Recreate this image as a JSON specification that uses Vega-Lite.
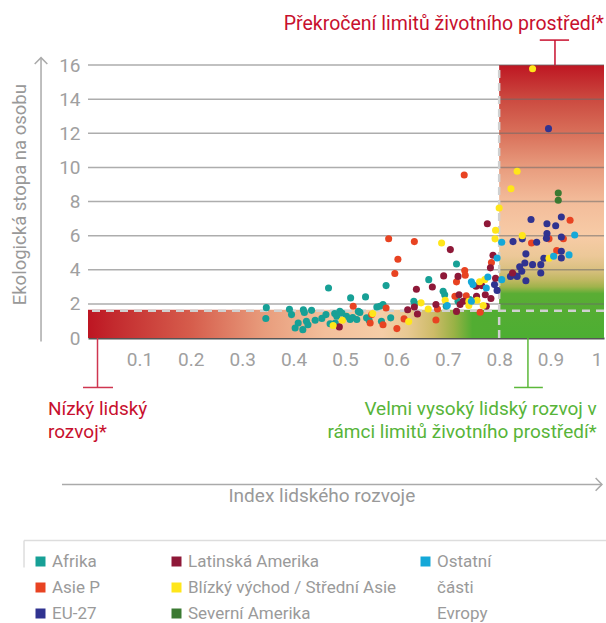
{
  "$schema": "https://vega.github.io/schema/vega-lite/v6.json",
  "width": 516,
  "height": 273,
  "autosize": "none",
  "padding": {"left": 88, "top": 65, "right": 2, "bottom": 285},
  "background": "white",
  "config": {
    "font": "Roboto, sans-serif",
    "view": {"stroke": null},
    "axis": {"labelFont": "Roboto, sans-serif", "labelOverlap": false, "labelFontSize": 19, "labelColor": "#a0a0a0", "ticks": false, "grid": false, "labelSeparation": 0},
    "axisX": {"domainColor": "#555555", "domainWidth": 2, "labelPadding": 12, "zindex": 1, "labelFlush": 5},
    "axisY": {"domain": false, "labelPadding": 8},
    "legend": {"labelFont": "Roboto, sans-serif"}
  },
  "datasets": {
    "pts": [
      {"region": "Afrika", "hdi": 0.347, "footprint": 1.78},
      {"region": "Afrika", "hdi": 0.346, "footprint": 1.14},
      {"region": "Afrika", "hdi": 0.392, "footprint": 1.68},
      {"region": "Afrika", "hdi": 0.396, "footprint": 1.37},
      {"region": "Afrika", "hdi": 0.419, "footprint": 1.66},
      {"region": "Afrika", "hdi": 0.435, "footprint": 1.62},
      {"region": "Afrika", "hdi": 0.409, "footprint": 0.88},
      {"region": "Afrika", "hdi": 0.403, "footprint": 0.59},
      {"region": "Afrika", "hdi": 0.418, "footprint": 0.49},
      {"region": "Afrika", "hdi": 0.425, "footprint": 0.98},
      {"region": "Afrika", "hdi": 0.428, "footprint": 0.78},
      {"region": "Afrika", "hdi": 0.442, "footprint": 1.04},
      {"region": "Afrika", "hdi": 0.421, "footprint": 1.5},
      {"region": "Afrika", "hdi": 0.455, "footprint": 1.15},
      {"region": "Afrika", "hdi": 0.463, "footprint": 1.37},
      {"region": "Afrika", "hdi": 0.468, "footprint": 2.93},
      {"region": "Afrika", "hdi": 0.471, "footprint": 0.84},
      {"region": "Afrika", "hdi": 0.48, "footprint": 1.43},
      {"region": "Afrika", "hdi": 0.484, "footprint": 1.27},
      {"region": "Afrika", "hdi": 0.481, "footprint": 0.88},
      {"region": "Afrika", "hdi": 0.49, "footprint": 1.56},
      {"region": "Afrika", "hdi": 0.494, "footprint": 1.47},
      {"region": "Afrika", "hdi": 0.503, "footprint": 1.27},
      {"region": "Afrika", "hdi": 0.51, "footprint": 1.08},
      {"region": "Afrika", "hdi": 0.511, "footprint": 2.35},
      {"region": "Afrika", "hdi": 0.515, "footprint": 1.2},
      {"region": "Afrika", "hdi": 0.523, "footprint": 1.08},
      {"region": "Afrika", "hdi": 0.526, "footprint": 1.56},
      {"region": "Afrika", "hdi": 0.529, "footprint": 1.5},
      {"region": "Afrika", "hdi": 0.54, "footprint": 2.41},
      {"region": "Afrika", "hdi": 0.542, "footprint": 1.18},
      {"region": "Afrika", "hdi": 0.547, "footprint": 1.04},
      {"region": "Afrika", "hdi": 0.562, "footprint": 1.82},
      {"region": "Afrika", "hdi": 0.568, "footprint": 1.86},
      {"region": "Afrika", "hdi": 0.574, "footprint": 1.96},
      {"region": "Afrika", "hdi": 0.571, "footprint": 0.98},
      {"region": "Afrika", "hdi": 0.58, "footprint": 3.07},
      {"region": "Afrika", "hdi": 0.589, "footprint": 1.18},
      {"region": "Afrika", "hdi": 0.636, "footprint": 2.02},
      {"region": "Afrika", "hdi": 0.634, "footprint": 2.15},
      {"region": "Afrika", "hdi": 0.663, "footprint": 3.42},
      {"region": "Afrika", "hdi": 0.691, "footprint": 2.74},
      {"region": "Afrika", "hdi": 0.694, "footprint": 2.54},
      {"region": "Afrika", "hdi": 0.697, "footprint": 1.86},
      {"region": "Afrika", "hdi": 0.717, "footprint": 4.34},
      {"region": "Afrika", "hdi": 0.72, "footprint": 2.15},
      {"region": "Afrika", "hdi": 0.743, "footprint": 2.25},
      {"region": "Asie P", "hdi": 0.732, "footprint": 9.55},
      {"region": "Asie P", "hdi": 0.585, "footprint": 5.82},
      {"region": "Asie P", "hdi": 0.635, "footprint": 5.65},
      {"region": "Asie P", "hdi": 0.603, "footprint": 4.62},
      {"region": "Asie P", "hdi": 0.597, "footprint": 3.78},
      {"region": "Asie P", "hdi": 0.516, "footprint": 1.86},
      {"region": "Asie P", "hdi": 0.552, "footprint": 1.37},
      {"region": "Asie P", "hdi": 0.549, "footprint": 0.88},
      {"region": "Asie P", "hdi": 0.574, "footprint": 0.78},
      {"region": "Asie P", "hdi": 0.58, "footprint": 1.76},
      {"region": "Asie P", "hdi": 0.601, "footprint": 0.55},
      {"region": "Asie P", "hdi": 0.615, "footprint": 1.12},
      {"region": "Asie P", "hdi": 0.677, "footprint": 1.06},
      {"region": "Asie P", "hdi": 0.68, "footprint": 1.7},
      {"region": "Asie P", "hdi": 0.717, "footprint": 3.29},
      {"region": "Asie P", "hdi": 0.733, "footprint": 3.96},
      {"region": "Asie P", "hdi": 0.734, "footprint": 3.68},
      {"region": "Asie P", "hdi": 0.714, "footprint": 2.44},
      {"region": "Asie P", "hdi": 0.736, "footprint": 2.48},
      {"region": "Asie P", "hdi": 0.763, "footprint": 1.51},
      {"region": "Asie P", "hdi": 0.785, "footprint": 4.43},
      {"region": "Asie P", "hdi": 0.863, "footprint": 5.57},
      {"region": "Asie P", "hdi": 0.938, "footprint": 6.9},
      {"region": "Asie P", "hdi": 0.925, "footprint": 5.82},
      {"region": "Asie P", "hdi": 0.897, "footprint": 5.81},
      {"region": "Asie P", "hdi": 0.912, "footprint": 5.12},
      {"region": "EU-27", "hdi": 0.896, "footprint": 12.27},
      {"region": "EU-27", "hdi": 0.862, "footprint": 6.94},
      {"region": "EU-27", "hdi": 0.893, "footprint": 6.7},
      {"region": "EU-27", "hdi": 0.91, "footprint": 6.58},
      {"region": "EU-27", "hdi": 0.921, "footprint": 7.09},
      {"region": "EU-27", "hdi": 0.845, "footprint": 5.81},
      {"region": "EU-27", "hdi": 0.827, "footprint": 5.65},
      {"region": "EU-27", "hdi": 0.873, "footprint": 5.61},
      {"region": "EU-27", "hdi": 0.893, "footprint": 6.12},
      {"region": "EU-27", "hdi": 0.892, "footprint": 5.84},
      {"region": "EU-27", "hdi": 0.921, "footprint": 5.92},
      {"region": "EU-27", "hdi": 0.921, "footprint": 5.08},
      {"region": "EU-27", "hdi": 0.921, "footprint": 4.69},
      {"region": "EU-27", "hdi": 0.887, "footprint": 4.67},
      {"region": "EU-27", "hdi": 0.852, "footprint": 4.93},
      {"region": "EU-27", "hdi": 0.85, "footprint": 4.4},
      {"region": "EU-27", "hdi": 0.865, "footprint": 4.3},
      {"region": "EU-27", "hdi": 0.881, "footprint": 4.3},
      {"region": "EU-27", "hdi": 0.881, "footprint": 3.81},
      {"region": "EU-27", "hdi": 0.84, "footprint": 4.17},
      {"region": "EU-27", "hdi": 0.844, "footprint": 3.91},
      {"region": "EU-27", "hdi": 0.835, "footprint": 3.61},
      {"region": "EU-27", "hdi": 0.822, "footprint": 3.61},
      {"region": "EU-27", "hdi": 0.828, "footprint": 3.71},
      {"region": "EU-27", "hdi": 0.852, "footprint": 3.36},
      {"region": "EU-27", "hdi": 0.791, "footprint": 3.13},
      {"region": "EU-27", "hdi": 0.796, "footprint": 2.79},
      {"region": "Latinská Amerika", "hdi": 0.777, "footprint": 6.7},
      {"region": "Latinská Amerika", "hdi": 0.788, "footprint": 4.85},
      {"region": "Latinská Amerika", "hdi": 0.783, "footprint": 4.11},
      {"region": "Latinská Amerika", "hdi": 0.705, "footprint": 5.18},
      {"region": "Latinská Amerika", "hdi": 0.692, "footprint": 3.64},
      {"region": "Latinská Amerika", "hdi": 0.72, "footprint": 3.61},
      {"region": "Latinská Amerika", "hdi": 0.67, "footprint": 2.99},
      {"region": "Latinská Amerika", "hdi": 0.639, "footprint": 2.86},
      {"region": "Latinská Amerika", "hdi": 0.722, "footprint": 2.54},
      {"region": "Latinská Amerika", "hdi": 0.756, "footprint": 2.44},
      {"region": "Latinská Amerika", "hdi": 0.773, "footprint": 2.54},
      {"region": "Latinská Amerika", "hdi": 0.784, "footprint": 2.31},
      {"region": "Latinská Amerika", "hdi": 0.755, "footprint": 3.03},
      {"region": "Latinská Amerika", "hdi": 0.766, "footprint": 3.07},
      {"region": "Latinská Amerika", "hdi": 0.793, "footprint": 3.5},
      {"region": "Latinská Amerika", "hdi": 0.677, "footprint": 1.96},
      {"region": "Latinská Amerika", "hdi": 0.724, "footprint": 1.96},
      {"region": "Latinská Amerika", "hdi": 0.635, "footprint": 1.82},
      {"region": "Latinská Amerika", "hdi": 0.641, "footprint": 1.41},
      {"region": "Latinská Amerika", "hdi": 0.622, "footprint": 1.66},
      {"region": "Latinská Amerika", "hdi": 0.717, "footprint": 1.56},
      {"region": "Latinská Amerika", "hdi": 0.775, "footprint": 1.86},
      {"region": "Latinská Amerika", "hdi": 0.73, "footprint": 2.15},
      {"region": "Latinská Amerika", "hdi": 0.489, "footprint": 0.65},
      {"region": "Latinská Amerika", "hdi": 0.826, "footprint": 3.81},
      {"region": "Blízký východ / Střední Asie", "hdi": 0.865, "footprint": 15.78},
      {"region": "Blízký východ / Střední Asie", "hdi": 0.835, "footprint": 9.77},
      {"region": "Blízký východ / Střední Asie", "hdi": 0.823, "footprint": 8.75},
      {"region": "Blízký východ / Střední Asie", "hdi": 0.8, "footprint": 7.62},
      {"region": "Blízký východ / Střední Asie", "hdi": 0.793, "footprint": 6.31},
      {"region": "Blízký východ / Střední Asie", "hdi": 0.792, "footprint": 5.81},
      {"region": "Blízký východ / Střední Asie", "hdi": 0.845, "footprint": 6.0},
      {"region": "Blízký východ / Střední Asie", "hdi": 0.897, "footprint": 4.67},
      {"region": "Blízký východ / Střední Asie", "hdi": 0.688, "footprint": 5.57},
      {"region": "Blízký východ / Střední Asie", "hdi": 0.762, "footprint": 3.3},
      {"region": "Blízký východ / Střední Asie", "hdi": 0.772, "footprint": 3.42},
      {"region": "Blízký východ / Střední Asie", "hdi": 0.757, "footprint": 2.21},
      {"region": "Blízký východ / Střední Asie", "hdi": 0.769, "footprint": 1.9},
      {"region": "Blízký východ / Střední Asie", "hdi": 0.741, "footprint": 2.15},
      {"region": "Blízký východ / Střední Asie", "hdi": 0.741, "footprint": 1.9},
      {"region": "Blízký východ / Střední Asie", "hdi": 0.695, "footprint": 2.21},
      {"region": "Blízký východ / Střední Asie", "hdi": 0.648, "footprint": 2.06},
      {"region": "Blízký východ / Střední Asie", "hdi": 0.662, "footprint": 1.7},
      {"region": "Blízký východ / Střední Asie", "hdi": 0.624, "footprint": 0.96},
      {"region": "Blízký východ / Střední Asie", "hdi": 0.554, "footprint": 1.43},
      {"region": "Blízký východ / Střední Asie", "hdi": 0.495, "footprint": 1.04},
      {"region": "Blízký východ / Střední Asie", "hdi": 0.477, "footprint": 0.73},
      {"region": "Severní Amerika", "hdi": 0.915, "footprint": 8.5},
      {"region": "Severní Amerika", "hdi": 0.915, "footprint": 8.07},
      {"region": "Ostatní části Evropy", "hdi": 0.805, "footprint": 5.61},
      {"region": "Ostatní části Evropy", "hdi": 0.796, "footprint": 4.69},
      {"region": "Ostatní části Evropy", "hdi": 0.805, "footprint": 3.42},
      {"region": "Ostatní části Evropy", "hdi": 0.746, "footprint": 3.3},
      {"region": "Ostatní části Evropy", "hdi": 0.749, "footprint": 3.13},
      {"region": "Ostatní části Evropy", "hdi": 0.775, "footprint": 2.93},
      {"region": "Ostatní části Evropy", "hdi": 0.778, "footprint": 3.58},
      {"region": "Ostatní části Evropy", "hdi": 0.699, "footprint": 1.9},
      {"region": "Ostatní části Evropy", "hdi": 0.746, "footprint": 2.15},
      {"region": "Ostatní části Evropy", "hdi": 0.947, "footprint": 6.04},
      {"region": "Ostatní části Evropy", "hdi": 0.936, "footprint": 4.87},
      {"region": "Ostatní části Evropy", "hdi": 0.906, "footprint": 4.79}
    ]
  },
  "layer": [
    {
      "data": {"values": [{}]},
      "mark": {"type": "rect", "fill": {"gradient": "linear", "x1": 0, "y1": 0, "x2": 1, "y2": 0, "stops": [
        {"offset": 0, "color": "#bd1522"},
        {"offset": 0.05, "color": "#c32a2e"},
        {"offset": 0.2, "color": "#d65d4c"},
        {"offset": 0.34, "color": "#e89c7c"},
        {"offset": 0.46, "color": "#f3bf9b"},
        {"offset": 0.57, "color": "#f5cda7"},
        {"offset": 0.62, "color": "#e8c992"},
        {"offset": 0.67, "color": "#cdbb68"},
        {"offset": 0.71, "color": "#98b245"},
        {"offset": 0.745, "color": "#52ad32"},
        {"offset": 1, "color": "#4cae32"}
      ]}},
      "encoding": {
        "x": {"datum": 0, "type": "quantitative", "scale": {"domain": [0, 1.004], "nice": false, "zero": false}, "axis": {"values": [0.1, 0.2, 0.3, 0.4, 0.5, 0.6, 0.7, 0.8, 0.9, 1], "format": "~g", "title": null, "labelOverlap": false}},
        "x2": {"datum": 1.004},
        "y": {"datum": 0, "type": "quantitative", "scale": {"domain": [0, 16], "nice": false}, "axis": {"values": [0, 2, 4, 6, 8, 10, 12, 14, 16], "title": null, "labelOverlap": false}},
        "y2": {"datum": 1.65}
      }
    },
    {
      "data": {"values": [{}]},
      "mark": {"type": "rect", "fill": {"gradient": "linear", "x1": 0, "y1": 0, "x2": 0, "y2": 1, "stops": [
        {"offset": 0, "color": "#be1622"},
        {"offset": 0.125, "color": "#cb4a40"},
        {"offset": 0.25, "color": "#d9705a"},
        {"offset": 0.375, "color": "#e89c7e"},
        {"offset": 0.5, "color": "#f3bc9a"},
        {"offset": 0.625, "color": "#f7cba6"},
        {"offset": 0.7, "color": "#ecc898"},
        {"offset": 0.75, "color": "#d9c080"},
        {"offset": 0.7875, "color": "#c0b862"},
        {"offset": 0.8125, "color": "#a0b34c"},
        {"offset": 0.8375, "color": "#5aad34"},
        {"offset": 1, "color": "#4cae32"}
      ]}},
      "encoding": {
        "x": {"datum": 0.8, "type": "quantitative", "axis": {"values": [0.1, 0.2, 0.3, 0.4, 0.5, 0.6, 0.7, 0.8, 0.9, 1], "format": "~g", "title": null, "labelOverlap": false}},
        "x2": {"datum": 1.004},
        "y": {"datum": 0, "type": "quantitative", "axis": {"values": [0, 2, 4, 6, 8, 10, 12, 14, 16], "title": null, "labelOverlap": false}},
        "y2": {"datum": 16}
      }
    },
    {
      "data": {"values": [{"g": 2}, {"g": 4}, {"g": 6}, {"g": 8}, {"g": 10}, {"g": 12}, {"g": 14}, {"g": 16}]},
      "mark": {"type": "rule", "color": "#6a6a6a", "opacity": 0.55, "strokeWidth": 1.5},
      "encoding": {"y": {"field": "g", "type": "quantitative", "axis": {"values": [0, 2, 4, 6, 8, 10, 12, 14, 16], "title": null, "labelOverlap": false}}}
    },
    {
      "data": {"values": [{}]},
      "mark": {"type": "rule", "color": "#d0d0d0", "strokeWidth": 2.5, "strokeDash": [8, 5]},
      "encoding": {"x": {"datum": 0.8, "type": "quantitative", "axis": {"values": [0.1, 0.2, 0.3, 0.4, 0.5, 0.6, 0.7, 0.8, 0.9, 1], "format": "~g", "title": null, "labelOverlap": false}}, "y": {"datum": 0, "type": "quantitative", "axis": {"values": [0, 2, 4, 6, 8, 10, 12, 14, 16], "title": null, "labelOverlap": false}}, "y2": {"datum": 16}}
    },
    {
      "data": {"values": [{}]},
      "mark": {"type": "rule", "color": "#d0d0d0", "strokeWidth": 2.5, "strokeDash": [8, 6]},
      "encoding": {"y": {"datum": 1.6, "type": "quantitative", "axis": {"values": [0, 2, 4, 6, 8, 10, 12, 14, 16], "title": null, "labelOverlap": false}}}
    },
    {
      "data": {"name": "pts"},
      "transform": [{"filter": {"field": "region", "oneOf": ["Afrika", "Asie P", "EU-27"]}}],
      "mark": {"type": "circle", "size": 50, "opacity": 1},
      "encoding": {
        "x": {"field": "hdi", "type": "quantitative", "axis": {"values": [0.1, 0.2, 0.3, 0.4, 0.5, 0.6, 0.7, 0.8, 0.9, 1], "format": "~g", "title": null, "labelOverlap": false}},
        "y": {"field": "footprint", "type": "quantitative", "axis": {"values": [0, 2, 4, 6, 8, 10, 12, 14, 16], "title": null, "labelOverlap": false}},
        "color": {"field": "region", "type": "nominal",
          "scale": {"domain": ["Afrika", "Asie P", "EU-27"], "range": ["#17a096", "#e84322", "#303390"]},
          "legend": {"title": null, "orient": "none", "legendX": -56, "legendY": 488, "direction": "vertical", "symbolType": "square", "symbolSize": 100, "symbolStrokeWidth": 0, "labelFontSize": 17, "labelColor": "#9a9a9a", "labelOffset": 3, "rowPadding": 8, "padding": 0}}
      }
    },
    {
      "data": {"name": "pts"},
      "transform": [{"filter": {"field": "region", "oneOf": ["Latinská Amerika", "Blízký východ / Střední Asie", "Severní Amerika"]}}],
      "mark": {"type": "circle", "size": 50, "opacity": 1},
      "encoding": {
        "x": {"field": "hdi", "type": "quantitative", "axis": {"values": [0.1, 0.2, 0.3, 0.4, 0.5, 0.6, 0.7, 0.8, 0.9, 1], "format": "~g", "title": null, "labelOverlap": false}},
        "y": {"field": "footprint", "type": "quantitative", "axis": {"values": [0, 2, 4, 6, 8, 10, 12, 14, 16], "title": null, "labelOverlap": false}},
        "color": {"field": "region", "type": "nominal",
          "scale": {"domain": ["Latinská Amerika", "Blízký východ / Střední Asie", "Severní Amerika"], "range": ["#8e1838", "#ffe61a", "#3b7a32"]},
          "legend": {"title": null, "orient": "none", "legendX": 80, "legendY": 488, "direction": "vertical", "symbolType": "square", "symbolSize": 100, "symbolStrokeWidth": 0, "labelFontSize": 17, "labelColor": "#9a9a9a", "labelOffset": 3, "rowPadding": 8, "padding": 0, "labelLimit": 400}}
      }
    },
    {
      "data": {"name": "pts"},
      "transform": [{"filter": {"field": "region", "oneOf": ["Ostatní části Evropy"]}}],
      "mark": {"type": "circle", "size": 50, "opacity": 1},
      "encoding": {
        "x": {"field": "hdi", "type": "quantitative", "axis": {"values": [0.1, 0.2, 0.3, 0.4, 0.5, 0.6, 0.7, 0.8, 0.9, 1], "format": "~g", "title": null, "labelOverlap": false}},
        "y": {"field": "footprint", "type": "quantitative", "axis": {"values": [0, 2, 4, 6, 8, 10, 12, 14, 16], "title": null, "labelOverlap": false}},
        "color": {"field": "region", "type": "nominal",
          "scale": {"domain": ["Ostatní části Evropy", "části", "Evropy"], "range": ["#14a8d8", "rgba(0,0,0,0)", "rgba(0,0,0,0)"]},
          "legend": {"title": null, "orient": "none", "legendX": 329, "legendY": 488, "direction": "vertical", "symbolType": "square", "symbolSize": 100, "symbolStrokeWidth": 0, "labelFontSize": 17, "labelColor": "#9a9a9a", "labelOffset": 3, "rowPadding": 8, "padding": 0,
            "labelExpr": "datum.label == 'Ostatní části Evropy' ? 'Ostatní' : datum.label"}}
      }
    },
    {
      "data": {"values": [{}]},
      "mark": {"type": "rule", "color": "#c8102e", "strokeWidth": 1.5},
      "encoding": {"x": {"datum": 0.9086, "type": "quantitative", "axis": {"values": [0.1, 0.2, 0.3, 0.4, 0.5, 0.6, 0.7, 0.8, 0.9, 1], "format": "~g", "title": null, "labelOverlap": false}}, "y": {"datum": 16, "type": "quantitative", "axis": {"values": [0, 2, 4, 6, 8, 10, 12, 14, 16], "title": null, "labelOverlap": false}}, "y2": {"datum": 17.46}}
    },
    {
      "data": {"values": [{}]},
      "mark": {"type": "rule", "color": "#c8102e", "strokeWidth": 1.5},
      "encoding": {"y": {"datum": 17.46, "type": "quantitative", "axis": {"values": [0, 2, 4, 6, 8, 10, 12, 14, 16], "title": null, "labelOverlap": false}}, "x": {"datum": 0.879, "type": "quantitative", "axis": {"values": [0.1, 0.2, 0.3, 0.4, 0.5, 0.6, 0.7, 0.8, 0.9, 1], "format": "~g", "title": null, "labelOverlap": false}}, "x2": {"datum": 0.936}}
    },
    {
      "data": {"values": [{}]},
      "mark": {"type": "rule", "color": "#cf3650", "strokeWidth": 1.5},
      "encoding": {"x": {"datum": 0.0185, "type": "quantitative", "axis": {"values": [0.1, 0.2, 0.3, 0.4, 0.5, 0.6, 0.7, 0.8, 0.9, 1], "format": "~g", "title": null, "labelOverlap": false}}, "y": {"datum": 0, "type": "quantitative", "axis": {"values": [0, 2, 4, 6, 8, 10, 12, 14, 16], "title": null, "labelOverlap": false}}, "y2": {"datum": -2.9}}
    },
    {
      "data": {"values": [{}]},
      "mark": {"type": "rule", "color": "#cf3650", "strokeWidth": 1.5},
      "encoding": {"y": {"datum": -2.9, "type": "quantitative", "axis": {"values": [0, 2, 4, 6, 8, 10, 12, 14, 16], "title": null, "labelOverlap": false}}, "x": {"datum": -0.0097, "type": "quantitative", "axis": {"values": [0.1, 0.2, 0.3, 0.4, 0.5, 0.6, 0.7, 0.8, 0.9, 1], "format": "~g", "title": null, "labelOverlap": false}}, "x2": {"datum": 0.0486}}
    },
    {
      "data": {"values": [{}]},
      "mark": {"type": "rule", "color": "#5cb83a", "strokeWidth": 1.5},
      "encoding": {"x": {"datum": 0.856, "type": "quantitative", "axis": {"values": [0.1, 0.2, 0.3, 0.4, 0.5, 0.6, 0.7, 0.8, 0.9, 1], "format": "~g", "title": null, "labelOverlap": false}}, "y": {"datum": 0, "type": "quantitative", "axis": {"values": [0, 2, 4, 6, 8, 10, 12, 14, 16], "title": null, "labelOverlap": false}}, "y2": {"datum": -2.9}}
    },
    {
      "data": {"values": [{}]},
      "mark": {"type": "rule", "color": "#5cb83a", "strokeWidth": 1.5},
      "encoding": {"y": {"datum": -2.9, "type": "quantitative", "axis": {"values": [0, 2, 4, 6, 8, 10, 12, 14, 16], "title": null, "labelOverlap": false}}, "x": {"datum": 0.829, "type": "quantitative", "axis": {"values": [0.1, 0.2, 0.3, 0.4, 0.5, 0.6, 0.7, 0.8, 0.9, 1], "format": "~g", "title": null, "labelOverlap": false}}, "x2": {"datum": 0.885}}
    },
    {
      "data": {"values": [{}]},
      "mark": {"type": "rule", "color": "#aaaaaa", "strokeWidth": 1.5},
      "encoding": {"y": {"datum": -8.58, "type": "quantitative", "axis": {"values": [0, 2, 4, 6, 8, 10, 12, 14, 16], "title": null, "labelOverlap": false}}, "x": {"datum": -0.0506, "type": "quantitative", "axis": {"values": [0.1, 0.2, 0.3, 0.4, 0.5, 0.6, 0.7, 0.8, 0.9, 1], "format": "~g", "title": null, "labelOverlap": false}}, "x2": {"datum": 1.0}}
    },
    {
      "data": {"values": [{}]},
      "mark": {"type": "rule", "color": "#aaaaaa", "strokeWidth": 1.5},
      "encoding": {"x": {"datum": -0.0914, "type": "quantitative", "axis": {"values": [0.1, 0.2, 0.3, 0.4, 0.5, 0.6, 0.7, 0.8, 0.9, 1], "format": "~g", "title": null, "labelOverlap": false}}, "y": {"datum": -0.2, "type": "quantitative", "axis": {"values": [0, 2, 4, 6, 8, 10, 12, 14, 16], "title": null, "labelOverlap": false}}, "y2": {"datum": 16.43}}
    },
    {
      "data": {"values": [{}]},
      "mark": {"type": "rule", "color": "#dddddd", "strokeWidth": 1.5},
      "encoding": {"y": {"datum": -11.87, "type": "quantitative", "axis": {"values": [0, 2, 4, 6, 8, 10, 12, 14, 16], "title": null, "labelOverlap": false}}, "x": {"datum": -0.1245, "type": "quantitative", "axis": {"values": [0.1, 0.2, 0.3, 0.4, 0.5, 0.6, 0.7, 0.8, 0.9, 1], "format": "~g", "title": null, "labelOverlap": false}}, "x2": {"datum": 1.008}}
    },
    {
      "data": {"values": [{}]},
      "mark": {"type": "rule", "color": "#dddddd", "strokeWidth": 1.5},
      "encoding": {"x": {"datum": -0.1245, "type": "quantitative", "axis": {"values": [0.1, 0.2, 0.3, 0.4, 0.5, 0.6, 0.7, 0.8, 0.9, 1], "format": "~g", "title": null, "labelOverlap": false}}, "y": {"datum": -11.87, "type": "quantitative", "axis": {"values": [0, 2, 4, 6, 8, 10, 12, 14, 16], "title": null, "labelOverlap": false}}, "y2": {"datum": -13.45}}
    },
    {
      "data": {"values": [{}]},
      "mark": {"type": "point", "shape": "M-1,-1L0,0L-1,1", "filled": false, "size": 160, "stroke": "#aaaaaa", "strokeWidth": 1.5, "opacity": 1},
      "encoding": {"x": {"datum": 1.0, "type": "quantitative", "axis": {"values": [0.1, 0.2, 0.3, 0.4, 0.5, 0.6, 0.7, 0.8, 0.9, 1], "format": "~g", "title": null, "labelOverlap": false}}, "y": {"datum": -8.58, "type": "quantitative", "axis": {"values": [0, 2, 4, 6, 8, 10, 12, 14, 16], "title": null, "labelOverlap": false}}}
    },
    {
      "data": {"values": [{}]},
      "mark": {"type": "point", "shape": "M-1,1L0,0L1,1", "filled": false, "size": 160, "stroke": "#aaaaaa", "strokeWidth": 1.5, "opacity": 1},
      "encoding": {"x": {"datum": -0.0914, "type": "quantitative", "axis": {"values": [0.1, 0.2, 0.3, 0.4, 0.5, 0.6, 0.7, 0.8, 0.9, 1], "format": "~g", "title": null, "labelOverlap": false}}, "y": {"datum": 16.43, "type": "quantitative", "axis": {"values": [0, 2, 4, 6, 8, 10, 12, 14, 16], "title": null, "labelOverlap": false}}}
    },
    {
      "data": {"values": [{}]},
      "mark": {"type": "text", "text": "Překročení limitů životního prostředí*", "align": "right", "baseline": "alphabetic", "fontSize": 19.5, "color": "#c8102e"},
      "encoding": {"x": {"datum": 1.004, "type": "quantitative", "axis": {"values": [0.1, 0.2, 0.3, 0.4, 0.5, 0.6, 0.7, 0.8, 0.9, 1], "format": "~g", "title": null, "labelOverlap": false}}, "y": {"datum": 18.07, "type": "quantitative", "axis": {"values": [0, 2, 4, 6, 8, 10, 12, 14, 16], "title": null, "labelOverlap": false}}}
    },
    {
      "data": {"values": [{}]},
      "mark": {"type": "text", "text": ["Nízký lidský", "rozvoj*"], "align": "left", "baseline": "top", "fontSize": 19, "lineHeight": 23, "color": "#c8102e"},
      "encoding": {"x": {"datum": -0.078, "type": "quantitative", "axis": {"values": [0.1, 0.2, 0.3, 0.4, 0.5, 0.6, 0.7, 0.8, 0.9, 1], "format": "~g", "title": null, "labelOverlap": false}}, "y": {"datum": -3.61, "type": "quantitative", "axis": {"values": [0, 2, 4, 6, 8, 10, 12, 14, 16], "title": null, "labelOverlap": false}}}
    },
    {
      "data": {"values": [{}]},
      "mark": {"type": "text", "text": ["Velmi vysoký lidský rozvoj v", "rámci limitů životního prostředí*"], "align": "right", "baseline": "top", "fontSize": 19, "lineHeight": 23, "color": "#57b439"},
      "encoding": {"x": {"datum": 0.99, "type": "quantitative", "axis": {"values": [0.1, 0.2, 0.3, 0.4, 0.5, 0.6, 0.7, 0.8, 0.9, 1], "format": "~g", "title": null, "labelOverlap": false}}, "y": {"datum": -3.61, "type": "quantitative", "axis": {"values": [0, 2, 4, 6, 8, 10, 12, 14, 16], "title": null, "labelOverlap": false}}}
    },
    {
      "data": {"values": [{}]},
      "mark": {"type": "text", "text": "Index lidského rozvoje", "align": "center", "baseline": "middle", "fontSize": 19, "color": "#999999"},
      "encoding": {"x": {"datum": 0.455, "type": "quantitative", "axis": {"values": [0.1, 0.2, 0.3, 0.4, 0.5, 0.6, 0.7, 0.8, 0.9, 1], "format": "~g", "title": null, "labelOverlap": false}}, "y": {"datum": -9.28, "type": "quantitative", "axis": {"values": [0, 2, 4, 6, 8, 10, 12, 14, 16], "title": null, "labelOverlap": false}}}
    },
    {
      "data": {"values": [{}]},
      "mark": {"type": "text", "text": "Ekologická  stopa na osobu", "align": "center", "baseline": "middle", "angle": 270, "fontSize": 18.5, "color": "#999999"},
      "encoding": {"x": {"datum": -0.1323, "type": "quantitative", "axis": {"values": [0.1, 0.2, 0.3, 0.4, 0.5, 0.6, 0.7, 0.8, 0.9, 1], "format": "~g", "title": null, "labelOverlap": false}}, "y": {"datum": 8.4, "type": "quantitative", "axis": {"values": [0, 2, 4, 6, 8, 10, 12, 14, 16], "title": null, "labelOverlap": false}}}
    }
  ],
  "resolve": {"scale": {"color": "independent"}, "legend": {"color": "independent"}}
}
